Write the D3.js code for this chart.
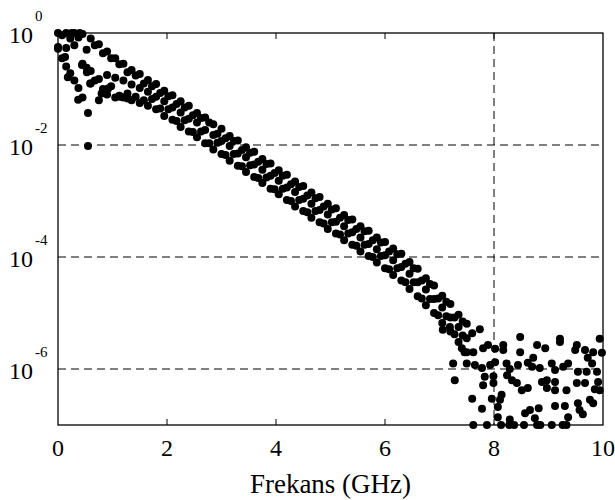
<!DOCTYPE html>
<html>
<head>
<meta charset="utf-8">
<script src="https://cdn.jsdelivr.net/npm/d3@7"></script>
<style>
  body { margin: 0; background: #fff; }
</style>
</head>
<body>
<div id="chart"></div>
<script>
// sweep frequencies (GHz) for the traces, two interleaved sets
const freqs = [0, 0.15, 0.3, 0.45, 0.6, 0.75, 0.9, 1.05, 1.2, 1.35, 1.5, 1.65, 1.8, 1.95, 2.1,
  2.25, 2.4, 2.55, 2.7, 2.85, 3, 3.15, 3.3, 3.45, 3.6, 3.75, 3.9, 4.05, 4.2, 4.35, 4.5,
  4.65, 4.8, 4.95, 5.1, 5.25, 5.4, 5.55, 5.7, 5.85, 6, 6.15, 6.3, 6.45, 6.6, 6.75, 6.9,
  7.05, 7.2, 7.35, 7.5];
const freqs2 = [0.075, 0.225, 0.375, 0.525, 0.675, 0.825, 0.975, 1.125, 1.275, 1.425, 1.575,
  1.725, 1.875, 2.025, 2.175, 2.325, 2.475, 2.625, 2.775, 2.925, 3.075, 3.225, 3.375, 3.525,
  3.675, 3.825, 3.975, 4.125, 4.275, 4.425, 4.575, 4.725, 4.875, 5.025, 5.175, 5.325, 5.475,
  5.625, 5.775, 5.925, 6.075, 6.225, 6.375, 6.525, 6.675, 6.825, 6.975, 7.125, 7.275, 7.425];
// values stored as log10 of the magnitude
const traceA = [0, 0, 0, -0.02, -0.1, -0.2, -0.33, -0.45, -0.55, -0.66, -0.73, -0.84, -0.91, -1.03,
  -1.11, -1.22, -1.3, -1.43, -1.51, -1.63, -1.71, -1.84, -1.92, -2.04, -2.12, -2.25, -2.33, -2.45,
  -2.53, -2.65, -2.73, -2.85, -2.93, -3.05, -3.13, -3.25, -3.33, -3.45, -3.53, -3.65, -3.73, -3.85,
  -3.94, -4.09, -4.21, -4.38, -4.51, -4.69, -4.84, -5.03, -5.19];
const traceB = [-0.25, -0.27, -0.22, -0.55, -0.68, -0.82, -0.75, -0.8, -0.85, -0.92, -0.98, -1.05,
  -1.14, -1.22, -1.33, -1.42, -1.53, -1.6, -1.73, -1.82, -1.93, -2.02, -2.15, -2.22, -2.35, -2.44,
  -2.55, -2.64, -2.76, -2.84, -2.96, -3.05, -3.16, -3.24, -3.37, -3.45, -3.56, -3.65, -3.77, -3.86,
  -3.97, -4.06, -4.18, -4.3, -4.45, -4.58, -4.75, -4.9, -5.08, -5.25, -5.45];
const traceC = [-0.28, -0.6, -0.85, -1.15, -0.9, -1.2, -1.1, -1.15, -1.15, -1.2, -1.25, -1.3, -1.36,
  -1.48, -1.55, -1.68, -1.76, -1.86, -1.97, -2.08, -2.16, -2.28, -2.37, -2.48, -2.57, -2.68, -2.78,
  -2.88, -2.98, -3.1, -3.18, -3.3, -3.38, -3.5, -3.58, -3.7, -3.78, -3.9, -3.98, -4.1, -4.2, -4.32,
  -4.42, -4.57, -4.7, -4.86, -5.0, -5.18, -5.33, -5.52, -5.7];
const traceD = [-0.04, -0.1, -0.08, -0.3, -0.22, -0.36, -0.45, -0.56, -0.7, -0.76, -0.9, -0.95,
  -1.07, -1.13, -1.27, -1.33, -1.47, -1.52, -1.6, -1.8, -1.88, -1.93, -2.09, -2.14, -2.3, -2.34,
  -2.5, -2.55, -2.7, -2.75, -2.9, -2.95, -3.1, -3.15, -3.3, -3.34, -3.5, -3.54, -3.7, -3.74, -3.9,
  -3.95, -4.12, -4.2, -4.42, -4.48, -4.74, -4.8, -5.08, -5.15];
const traceE = [-0.45, -0.72, -0.98, -0.62, -0.85, -1.0, -0.95, -1.12, -1.08, -1.14, -1.2, -1.18,
  -1.35, -1.36, -1.57, -1.56, -1.77, -1.76, -1.97, -1.96, -2.18, -2.16, -2.38, -2.36, -2.59, -2.58,
  -2.79, -2.78, -3.0, -2.98, -3.2, -3.18, -3.4, -3.38, -3.6, -3.58, -3.8, -3.78, -4.0, -3.98, -4.22,
  -4.2, -4.45, -4.45, -4.74, -4.75, -5.04, -5.06, -5.38, -5.4];
// loose points (freq, log10 value): low-frequency spread and the noise floor
const scatterLow = [[0.13, -0.43], [0.18, -0.79], [0.37, -1.19], [0.44, -0.57], [0.53, -0.7],
  [0.55, -1.43], [0.55, -2.02], [0.59, -0.9], [0.8, -1.08], [0.92, -0.99], [1.14, -1.14],
  [1.28, -1.17], [0.25, 0], [0.4, 0]];
const scatterHigh = [[7.06, -5.3], [7.19, -5.25], [7.25, -5.9], [7.28, -6.2], [7.41, -5.63],
  [7.46, -5.7], [7.5, -5.9], [7.6, -5.36], [7.62, -5.7], [7.65, -5.93], [7.74, -5.29], [7.78, -5.98],
  [7.8, -5.63], [7.6, -6.53], [7.62, -7], [7.78, -6.71], [7.83, -6.14], [7.8, -6.29], [7.87, -7],
  [7.89, -5.57], [7.93, -5.93], [7.96, -6.53], [7.99, -6.13], [7.99, -6.25], [8.02, -5.64],
  [8.02, -5.88], [8.07, -6.68], [8.07, -6.86], [8.11, -6.55], [8.13, -7], [8.14, -6.46], [8.17, -5.57],
  [8.17, -5.66], [8.23, -5.9], [8.24, -6.11], [8.29, -6.0], [8.28, -7], [8.29, -6.9], [8.33, -6.2],
  [8.37, -7], [8.42, -6.25], [8.44, -5.93], [8.48, -5.43], [8.48, -5.7], [8.51, -6.38], [8.55, -7],
  [8.57, -6.79], [8.62, -5.89], [8.62, -6.34], [8.66, -6.73], [8.7, -5.96], [8.72, -5.8], [8.75, -6.88],
  [8.79, -5.57], [8.79, -7], [8.82, -6.7], [8.84, -5.98], [8.85, -7], [8.88, -6.23], [8.94, -5.63],
  [8.97, -6.34], [8.97, -6.2], [9.06, -5.9], [9.06, -7], [9.12, -6.02], [9.12, -6.38], [9.12, -6.66],
  [9.12, -6.23], [9.21, -5.46], [9.21, -5.52], [9.26, -7], [9.27, -5.96], [9.3, -6.66], [9.33, -6.38],
  [9.33, -7], [9.36, -5.9], [9.36, -6.86], [9.49, -5.66], [9.52, -5.57], [9.52, -6.25], [9.54, -6.05],
  [9.54, -6.61], [9.57, -6.73], [9.63, -6.81], [9.67, -5.66], [9.67, -6.25], [9.7, -6.05], [9.72, -5.8],
  [9.76, -6.55], [9.8, -5.9], [9.82, -5.7], [9.82, -6.61], [9.85, -6.36], [9.89, -6.05], [9.91, -6.23],
  [9.94, -5.46], [9.94, -6.38], [9.98, -5.71]];

const xTicks = [0, 2, 4, 6, 8, 10];
const yTicks = [-6, -4, -2, 0];   // decades labelled 10^n
const yGrid = [-6, -4, -2];
const xGrid = [8];
const xLabel = "Frekans (GHz)";

const width = 615, height = 500;
const margin = { top: 33, right: 12, bottom: 75, left: 58 };
const dotR = 4;
const serif = "Times New Roman, Liberation Serif, Tinos, DejaVu Serif, Noto Serif, FreeSerif, serif";

const svg = d3.select("#chart").append("svg")
    .attr("width", width)
    .attr("height", height)
    .style("font-family", serif);

const x = d3.scaleLinear().domain([0, 10]).range([margin.left, width - margin.right]);
const y = d3.scaleLog().domain([1e-7, 1]).range([height - margin.bottom, margin.top]);

// gather all points
var points = [];
[traceA, traceB, traceC].forEach(function(tr) {
    tr.forEach(function(v, i) { points.push([freqs[i], v]); });
});
[traceD, traceE].forEach(function(tr) {
    tr.forEach(function(v, i) { points.push([freqs2[i], v]); });
});
scatterLow.concat(scatterHigh).forEach(function(p) { points.push(p); });

// dashed grid
svg.append("g").selectAll("line")
    .data(yGrid).join("line")
    .attr("x1", x(0)).attr("x2", x(10))
    .attr("y1", function(d) { return y(Math.pow(10, d)); })
    .attr("y2", function(d) { return y(Math.pow(10, d)); })
    .attr("stroke", "#000").attr("stroke-width", 1)
    .attr("stroke-dasharray", "8,5");
svg.append("g").selectAll("line")
    .data(xGrid).join("line")
    .attr("x1", function(d) { return x(d); })
    .attr("x2", function(d) { return x(d); })
    .attr("y1", y(1)).attr("y2", y(1e-7))
    .attr("stroke", "#000").attr("stroke-width", 1)
    .attr("stroke-dasharray", "8,5");

// ticks top and bottom, pointing inward
var tickLen = 6;
var xInner = xTicks.slice(1, -1);
svg.append("g").selectAll("line")
    .data(xInner).join("line")
    .attr("x1", function(d) { return x(d); }).attr("x2", function(d) { return x(d); })
    .attr("y1", y(1e-7)).attr("y2", y(1e-7) - tickLen)
    .attr("stroke", "#000");
svg.append("g").selectAll("line")
    .data(xInner).join("line")
    .attr("x1", function(d) { return x(d); }).attr("x2", function(d) { return x(d); })
    .attr("y1", y(1)).attr("y2", y(1) + tickLen)
    .attr("stroke", "#000");

// the dots
svg.append("g").selectAll("circle")
    .data(points).join("circle")
    .attr("cx", function(d) { return x(d[0]); })
    .attr("cy", function(d) { return y(Math.pow(10, d[1])); })
    .attr("r", dotR)
    .attr("fill", "#000");

// frame
svg.append("rect")
    .attr("x", x(0)).attr("y", y(1))
    .attr("width", x(10) - x(0)).attr("height", y(1e-7) - y(1))
    .attr("fill", "none").attr("stroke", "#000").attr("stroke-width", 1.3);

// x tick labels
svg.append("g").selectAll("text")
    .data(xTicks).join("text")
    .attr("x", function(d) { return x(d); })
    .attr("y", y(1e-7) + 31)
    .attr("text-anchor", "middle")
    .style("font-family", serif)
    .attr("font-size", 24)
    .text(function(d) { return d; });

// y tick labels: 10 with superscript exponent
var yl = svg.append("g").selectAll("g")
    .data(yTicks).join("g")
    .attr("transform", function(d) { return "translate(0," + y(Math.pow(10, d)) + ")"; });
yl.append("text")
    .attr("x", 33).attr("y", 10)
    .attr("text-anchor", "end")
    .style("font-family", serif)
    .attr("font-size", 24)
    .text("10");
yl.append("text")
    .attr("x", 35).attr("y", -12)
    .style("font-family", serif)
    .attr("font-size", 15)
    .text(function(d) { return d; });

// axis title
svg.append("text")
    .attr("x", (x(0) + x(10)) / 2)
    .attr("y", 493)
    .attr("text-anchor", "middle")
    .style("font-family", serif)
    .attr("font-size", 27)
    .text(xLabel);
</script>
</body>
</html>
